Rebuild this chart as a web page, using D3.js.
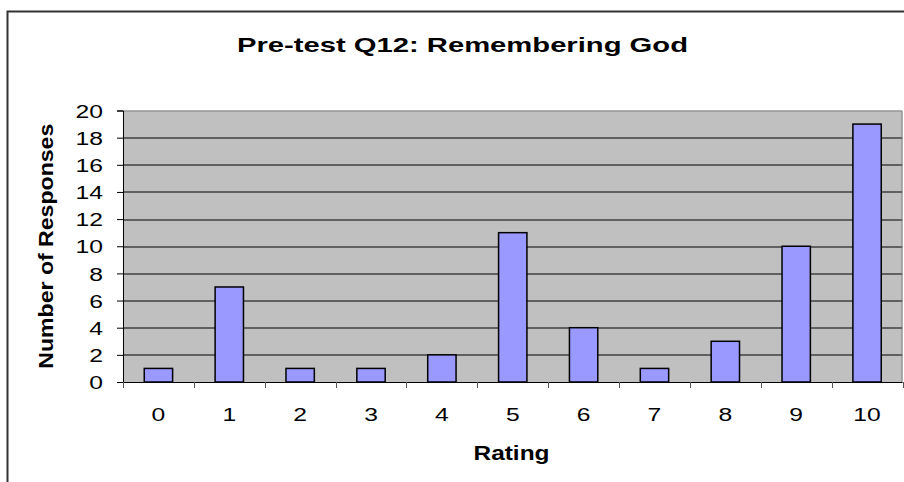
<!DOCTYPE html>
<html>
<head>
<meta charset="utf-8">
<script src="https://cdn.jsdelivr.net/npm/d3@7"></script>
<style>
  html, body { margin: 0; padding: 0; background: #fff; }
  svg { display: block; font-family: Arial, "Liberation Sans", sans-serif; }
</style>
</head>
<body>
<div id="chart"></div>
<script>
// data
const ratings = ["0", "1", "2", "3", "4", "5", "6", "7", "8", "9", "10"];
const responses = [1, 7, 1, 1, 2, 11, 4, 1, 3, 10, 19];
const yTicks = [0, 2, 4, 6, 8, 10, 12, 14, 16, 18, 20];
const titleText = "Pre-test Q12: Remembering God";
const xTitle = "Rating";
const yTitle = "Number of Responses";

const width = 904, height = 482;
const margin = { top: 110.5, right: 1.5, bottom: 100, left: 123 };
const innerW = width - margin.left - margin.right;
const innerH = height - margin.top - margin.bottom;
const stretch = 1.3; // text in the source is drawn wider than normal

const svg = d3.select('#chart').append('svg')
    .attr('width', width)
    .attr('height', height);

// outer chart border
svg.append('rect')
    .attr('x', 7.5).attr('y', 11.5)
    .attr('width', width + 10).attr('height', height + 10)
    .attr('fill', 'none')
    .attr('stroke', '#333')
    .attr('stroke-width', 2);

const chart = svg.append('g')
    .attr('transform', `translate(${margin.left},${margin.top})`);

const x = d3.scaleBand()
    .domain(ratings)
    .range([0, innerW])
    .paddingInner(0.6)
    .paddingOuter(0.3);

const xBand = d3.scaleBand().domain(ratings).range([0, innerW]);

const y = d3.scaleLinear()
    .domain([0, 20])
    .range([innerH, 0]);

// plot area
chart.append('rect')
    .attr('width', innerW).attr('height', innerH)
    .attr('fill', '#C0C0C0');

// gridlines
chart.append('g')
    .selectAll('line')
    .data(yTicks.filter(d => d > 0 && d < 20))
    .join('line')
    .attr('x1', 0).attr('x2', innerW)
    .attr('y1', d => Math.round(y(d)) + 0.5)
    .attr('y2', d => Math.round(y(d)) + 0.5)
    .attr('stroke', '#000')
    .attr('stroke-width', 1);

// plot border (top/right)
chart.append('path')
    .attr('d', `M0,0.5H${innerW - 0.5}V${innerH}`)
    .attr('fill', 'none')
    .attr('stroke', '#808080')
    .attr('stroke-width', 1);

// bars
chart.selectAll('.bar')
    .data(responses)
    .join('rect')
    .attr('class', 'bar')
    .attr('x', (d, i) => x(ratings[i]))
    .attr('width', x.bandwidth())
    .attr('y', d => y(d))
    .attr('height', d => innerH - y(d))
    .attr('fill', '#9999FF')
    .attr('stroke', '#000')
    .attr('stroke-width', 1.5);

// y axis
const yAxis = chart.append('g')
    .call(d3.axisLeft(y).tickValues(yTicks).tickSize(6).tickPadding(0).tickFormat(d3.format('d')));
yAxis.select('.domain').attr('stroke', '#000').attr('d', `M-6,0.5H0.5V${innerH}`);
yAxis.selectAll('.tick line').attr('stroke', '#000');
yAxis.selectAll('text')
    .attr('x', -20 / stretch)
    .attr('transform', `scale(${stretch},1)`)
    .attr('dy', '0.35em')
    .style('font-size', '19px')
    .style('fill', '#000');

// x axis
const xAxis = chart.append('g')
    .attr('transform', `translate(0,${innerH})`)
    .call(d3.axisBottom(xBand).tickSize(0).tickPadding(0));
xAxis.select('.domain').attr('stroke', '#000').attr('d', `M0,0.5H${innerW}`);
xAxis.selectAll('text')
    .attr('y', 39)
    .attr('dy', 0)
    .attr('transform', `scale(${stretch},1)`)
    .attr('x', 0)
    .style('font-size', '19px')
    .style('fill', '#000');

// ticks between categories
xAxis.append('g')
    .selectAll('line')
    .data(d3.range(ratings.length + 1))
    .join('line')
    .attr('x1', i => Math.round(i * xBand.step()) + 0.5)
    .attr('x2', i => Math.round(i * xBand.step()) + 0.5)
    .attr('y1', 0).attr('y2', 6)
    .attr('stroke', '#555');

// title
svg.append('text')
    .attr('x', 462.5).attr('y', 52)
    .attr('text-anchor', 'middle')
    .attr('textLength', 451)
    .attr('lengthAdjust', 'spacingAndGlyphs')
    .style('font-size', '21px')
    .style('font-weight', 'bold')
    .text(titleText);

// x title
svg.append('text')
    .attr('x', 511.5).attr('y', 460)
    .attr('text-anchor', 'middle')
    .attr('textLength', 76)
    .attr('lengthAdjust', 'spacingAndGlyphs')
    .style('font-size', '20px')
    .style('font-weight', 'bold')
    .text(xTitle);

// y title
svg.append('text')
    .attr('transform', `translate(53,${margin.top + innerH / 2}) rotate(-90)`)
    .attr('text-anchor', 'middle')
    .attr('textLength', 245)
    .attr('lengthAdjust', 'spacingAndGlyphs')
    .style('font-size', '20px')
    .style('font-weight', 'bold')
    .text(yTitle);
</script>
</body>
</html>
